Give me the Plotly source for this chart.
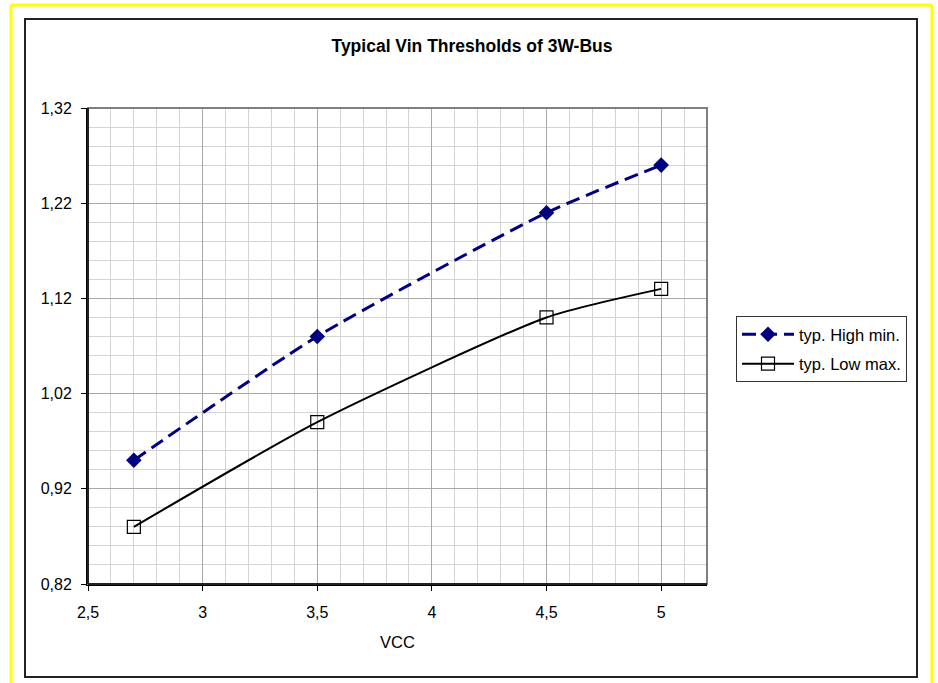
import plotly.graph_objects as go

vcc = [2.7, 3.5, 4.5, 5.0]
high_min = [0.95, 1.08, 1.21, 1.26]
low_max = [0.88, 0.99, 1.10, 1.13]
x_ticks = [2.5, 3, 3.5, 4, 4.5, 5]
y_ticks = [0.82, 0.92, 1.02, 1.12, 1.22, 1.32]

fig = go.Figure()
fig.add_trace(go.Scatter(
    x=vcc, y=high_min, name="typ. High min.", mode="lines+markers", legendgroup="a",
    line=dict(color="#000080", width=3, dash="14px,7px", shape="spline", smoothing=0.6),
    marker=dict(symbol="diamond", size=12, color="#000080"),
))
fig.add_trace(go.Scatter(
    x=vcc, y=low_max, name="typ. Low max.", mode="lines+markers", legendgroup="b",
    line=dict(color="black", width=2, shape="spline", smoothing=0.6),
    marker=dict(symbol="square-open", size=13, color="black", line=dict(width=1.2)),
))

L, R, T, B = 88, 231, 108, 99
W, H = 938, 683
pw, ph = W - L - R, H - T - B
def px(x): return (x - L) / pw
def py(y): return (H - B - y) / ph

yellow = dict(color="#ffff00", width=3)
fig.update_layout(
    width=W, height=H,
    margin=dict(l=L, r=R, t=T, b=B),
    paper_bgcolor="white", plot_bgcolor="white",
    separators=",.",
    font=dict(family="Liberation Sans, Arial", size=16, color="black"),
    title=dict(text="<b>Typical Vin Thresholds of 3W-Bus</b>", xref="container", x=472 / W,
               xanchor="center", yref="container", y=1 - 46 / H, yanchor="middle",
               font=dict(size=17.5)),
    showlegend=True,
    legend=dict(x=px(736), y=py(316), xanchor="left", yanchor="top",
                bordercolor="#333", borderwidth=1, bgcolor="white",
                font=dict(size=16.5), traceorder="grouped", tracegroupgap=5, itemwidth=52),
    xaxis=dict(range=[2.5, 5.2], tickvals=x_ticks, showgrid=True, gridcolor="#a8a8a8",
               gridwidth=1, showline=True, linecolor="black", linewidth=2,
               ticks="outside", ticklen=5, tickcolor="black", zeroline=False,
               ticklabelstandoff=8,
               minor=dict(dtick=0.1, tick0=2.5, showgrid=True, gridcolor="#d4d4d4", gridwidth=1),
               title=dict(text="VCC", font=dict(size=16.5), standoff=16)),
    yaxis=dict(range=[0.82, 1.32], tickvals=y_ticks, tickformat=".2f", showgrid=True,
               gridcolor="#a8a8a8", gridwidth=1, showline=True, linecolor="black", linewidth=2,
               ticks="outside", ticklen=5, tickcolor="black", zeroline=False,
               ticklabelstandoff=6,
               minor=dict(dtick=0.02, tick0=0.82, showgrid=True, gridcolor="#d4d4d4", gridwidth=1)),
    shapes=[
        dict(type="rect", xref="paper", yref="paper", x0=0, x1=1, y0=0, y1=1,
             line=dict(color="#808080", width=2), layer="above"),
        dict(type="line", xref="paper", yref="paper", x0=0, x1=0, y0=0, y1=1,
             line=dict(color="#222", width=2), layer="above"),
        dict(type="line", xref="paper", yref="paper", x0=0, x1=1, y0=0, y1=0,
             line=dict(color="#222", width=2), layer="above"),
        dict(type="rect", xref="paper", yref="paper", x0=px(25), x1=px(917), y0=py(19), y1=py(677),
             line=dict(color="#222", width=2), layer="below"),
        dict(type="line", xref="paper", yref="paper", x0=px(11), x1=px(932), y0=py(5), y1=py(5),
             line=yellow, layer="below"),
        dict(type="line", xref="paper", yref="paper", x0=px(11), x1=px(11), y0=py(5), y1=py(683),
             line=yellow, layer="below"),
        dict(type="line", xref="paper", yref="paper", x0=px(932), x1=px(932), y0=py(5), y1=py(683),
             line=yellow, layer="below"),
    ],
)

fig.write_html("out.html", config={"displayModeBar": False},
               post_script="document.body.style.margin='0';document.body.style.overflow='hidden';")
